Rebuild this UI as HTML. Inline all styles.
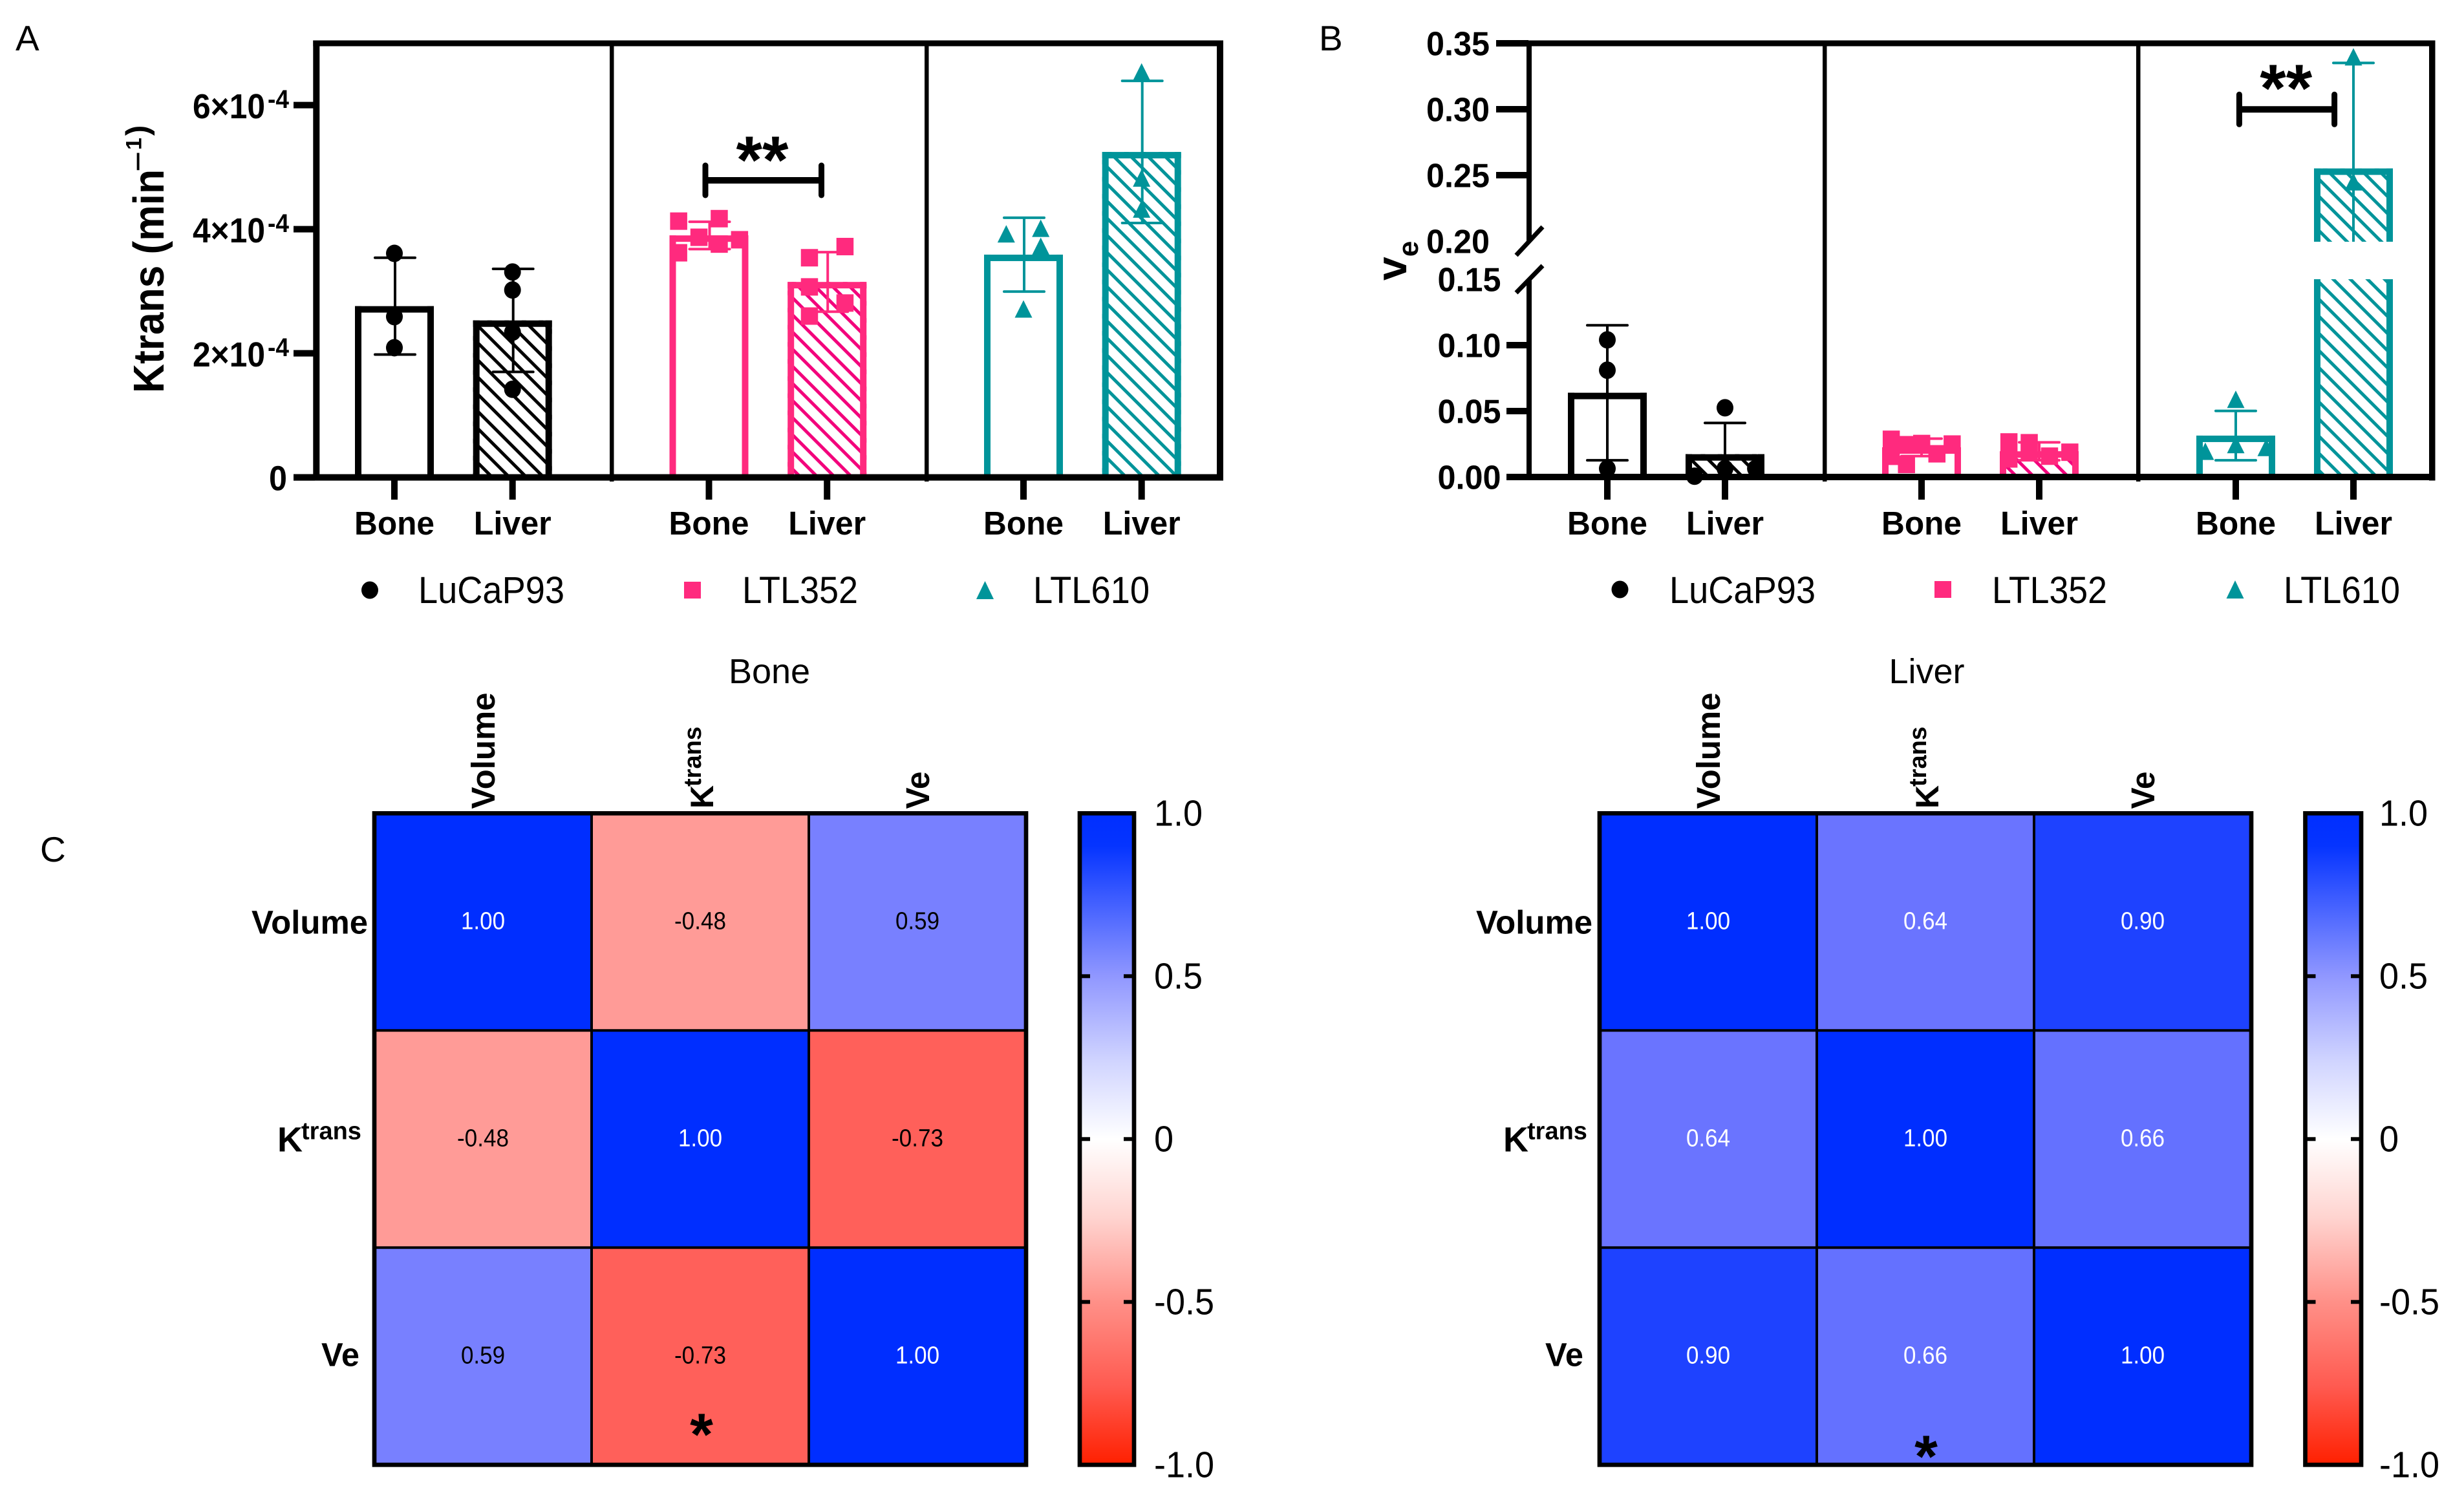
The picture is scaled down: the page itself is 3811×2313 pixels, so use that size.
<!DOCTYPE html>
<html><head><meta charset="utf-8"><title>Ktrans and ve bar charts with correlation heatmaps</title>
<style>html,body{margin:0;padding:0;background:#fff}svg{display:block}text{font-family:"Liberation Sans",Arial,sans-serif}</style></head>
<body>
<svg id="fig" xmlns="http://www.w3.org/2000/svg" width="3811" height="2313" viewBox="0 0 3811 2313">
<defs>
<pattern id="hatch-black" patternUnits="userSpaceOnUse" width="18.74" height="18.74" patternTransform="rotate(45)"><rect width="18.74" height="18.74" fill="#fff"/><rect width="18.74" height="5" fill="#000"/></pattern>
<pattern id="hatch-pink" patternUnits="userSpaceOnUse" width="18.74" height="18.74" patternTransform="rotate(45)"><rect width="18.74" height="18.74" fill="#fff"/><rect width="18.74" height="5" fill="#f3007c"/></pattern>
<pattern id="hatch-teal" patternUnits="userSpaceOnUse" width="18.74" height="18.74" patternTransform="rotate(45)"><rect width="18.74" height="18.74" fill="#fff"/><rect width="18.74" height="5" fill="#00949a"/></pattern>
<linearGradient id="cbar" x1="0" y1="0" x2="0" y2="1">
<stop offset="0" stop-color="#002eff"/><stop offset="0.05" stop-color="#0534ff"/><stop offset="0.25" stop-color="#9097ff"/><stop offset="0.38" stop-color="#d0d4ff"/><stop offset="0.5" stop-color="#ffffff"/><stop offset="0.62" stop-color="#ffd4d0"/><stop offset="0.75" stop-color="#ff9088"/><stop offset="0.88" stop-color="#ff5a50"/><stop offset="1" stop-color="#ff2000"/>
</linearGradient>
</defs>
<rect width="3811" height="2313" fill="#fff"/>

<text x="24" y="78" font-size="55">A</text>
<text x="2040" y="78" font-size="55">B</text>
<text x="62" y="1333" font-size="55">C</text>

<g id="panelA"></g>
<g id="panelB"></g>

<g>
<text transform="translate(253,608) rotate(-90)" font-size="67" font-weight="700" textLength="346" lengthAdjust="spacingAndGlyphs">Ktrans (min</text>
<text transform="translate(253,608) rotate(-90)" font-weight="700"><tspan x="342" y="-21" font-size="55" font-weight="400">−</tspan><tspan x="376" y="-34.7" font-size="34">1</tspan><tspan x="398" y="-24" font-size="49">)</tspan></text>
</g>
<text transform="translate(2175,434) rotate(-90)" font-size="66" font-weight="700">v<tspan font-size="44" dy="18">e</tspan></text>

<g>
<ellipse cx="572" cy="913" rx="13" ry="13.5" fill="#000"/>
<text x="647" y="933" font-size="58" textLength="226" lengthAdjust="spacingAndGlyphs">LuCaP93</text>
<rect x="1058" y="900" width="26" height="26" fill="#ff2a7e"/>
<text x="1148" y="933" font-size="58" textLength="179" lengthAdjust="spacingAndGlyphs">LTL352</text>
<path d="M1523.5 899L1537 927H1510Z" fill="#00949a"/>
<text x="1598" y="933" font-size="58" textLength="180" lengthAdjust="spacingAndGlyphs">LTL610</text>
</g>
<g>
<ellipse cx="2505.5" cy="912" rx="13" ry="13.5" fill="#000"/>
<text x="2582" y="933" font-size="58" textLength="226" lengthAdjust="spacingAndGlyphs">LuCaP93</text>
<rect x="2992" y="899" width="26" height="26" fill="#ff2a7e"/>
<text x="3081" y="933" font-size="58" textLength="178" lengthAdjust="spacingAndGlyphs">LTL352</text>
<path d="M3457 898L3470.5 926H3443.5Z" fill="#00949a"/>
<text x="3532" y="933" font-size="58" textLength="180" lengthAdjust="spacingAndGlyphs">LTL610</text>
</g>

<text x="1190" y="1057" text-anchor="middle" font-size="54">Bone</text>
<text x="2980" y="1057" text-anchor="middle" font-size="54">Liver</text>

<g id="heatBone"></g>
<g id="heatLiver"></g>

<script>
// Shared categories
const tissues = ['Bone', 'Liver'];
const modelColors = ['black', 'pink', 'teal'];

// Panel A: Ktrans, values in units of 1e-4 per minute
const ktransMeans = [2.76, 2.53, 3.90, 3.15, 3.59, 5.245];
const ktransSds = [0.78, 0.83, 0.22, 0.48, 0.595, 1.145];
const ktransPoints = [
  [3.61, 2.59, 2.09],
  [3.31, 3.02, 2.34, 1.42],
  [4.13, 4.17, 3.87, 3.83, 3.76, 3.62],
  [3.54, 3.72, 3.07, 2.81, 2.60],
  [3.92, 4.01, 3.72, 2.71],
  [6.53, 4.82, 4.32]
];
const ktransSwarm = [
  [0, 0, 0],
  [0, 0, 0, 0],
  [-3, 1, -1, 3, 1, -3],
  [-1.75, 1.75, -1.75, 1.75, -1.75],
  [-1.7, 1.7, 1.7, 0],
  [0, 0, 0]
];
const ktransTicks = [0, 2, 4, 6];

// Panel B: ve
const veMeans = [0.0639, 0.0173, 0.0225, 0.0195, 0.0314, 0.2551];
const veSds = [0.0512, 0.0237, 0.0066, 0.0068, 0.0187, 0.08];
const vePoints = [
  [0.104, 0.081, 0.0064],
  [0.0525, 0.0064, 0.0006, 0.0064],
  [0.0286, 0.0254, 0.0095, 0.025, 0.0176, 0.0157, 0.0245],
  [0.0266, 0.026, 0.0158, 0.0188, 0.0137, 0.0201],
  [0.0587, 0.0244, 0.0193, 0.0222],
  [0.3395, 0.2447, 0.175]
];
const veSwarm = [
  [0, 0, 0],
  [0, 0, -3, 3],
  [-3, 0, -1.5, 3, 1.5, -3, -1.5],
  [-3, -1, 1, 3, -3, -1],
  [0, 0, -3, 3],
  [0, 0, 0]
];
const veTicks = [0, 0.05, 0.10, 0.15, 0.20, 0.25, 0.30, 0.35];

// Panel C: correlation matrices
const heatVariables = ['Volume', 'Ktrans', 'Ve'];
const boneCorrelation = [
  [1.00, -0.48, 0.59],
  [-0.48, 1.00, -0.73],
  [0.59, -0.73, 1.00]
];
const liverCorrelation = [
  [1.00, 0.64, 0.90],
  [0.64, 1.00, 0.66],
  [0.90, 0.66, 1.00]
];
const colorbarTicks = [1.0, 0.5, 0, -0.5, -1.0];

const NS = 'http://www.w3.org/2000/svg';
const COLORS = {black: '#000', pink: '#ff2a7e', teal: '#00949a'};

function mark(parent, tag, attrs, name) {
  const el = document.createElementNS(NS, tag);
  for (const k in attrs) el.setAttribute(k, attrs[k]);
  
  
  parent.appendChild(el);
  return el;
}
function label(parent, attrs, str, name) {
  const el = mark(parent, 'text', attrs, name);
  el.textContent = str;
  return el;
}

// Axis functions
const xA = i => 610 + Math.floor(i / 2) * 486.5 + (i % 2) * 182.7;
const yA = v => 738.6 - v * 96;
const xB = i => 2486 + Math.floor(i / 2) * 486 + (i % 2) * 182;
const BREAK_TOP = 374, BREAK_BOTTOM = 432, BASE_B = 738;
const yB = v => v >= 0.2 ? 67 + (0.35 - v) * 2040 : (v <= 0.15 ? BASE_B - v * 2040 : null);

function barPiece(g, cx, top, bottom, color, hatched, withTop, name) {
  const c = COLORS[color], hw = 61, wall = 10;
  if (hatched) mark(g, 'rect', {x: cx - hw, y: top, width: hw * 2, height: bottom - top, fill: 'url(#hatch-' + color + ')'}, name + '-hatch');
  mark(g, 'rect', {x: cx - hw, y: top, width: wall, height: bottom - top, fill: c}, name + '-left-wall');
  mark(g, 'rect', {x: cx + hw - wall, y: top, width: wall, height: bottom - top, fill: c}, name + '-right-wall');
  if (withTop) mark(g, 'rect', {x: cx - hw, y: top, width: hw * 2, height: wall, fill: c}, name + '-top');
}

function errorBar(g, cx, yHi, yLo, fallbackLo, color, name) {
  const c = COLORS[color];
  const lo = yLo === null ? fallbackLo : yLo;
  mark(g, 'line', {x1: cx, x2: cx, y1: yHi, y2: lo, stroke: c, 'stroke-width': 4}, name + '-stem');
  mark(g, 'line', {x1: cx - 31, x2: cx + 31, y1: yHi, y2: yHi, stroke: c, 'stroke-width': 4, 'stroke-linecap': 'round'}, name + '-cap-upper');
  if (yLo !== null) mark(g, 'line', {x1: cx - 31, x2: cx + 31, y1: yLo, y2: yLo, stroke: c, 'stroke-width': 4, 'stroke-linecap': 'round'}, name + '-cap-lower');
}

function point(g, x, y, group, name) {
  const c = COLORS[modelColors[group]];
  if (group === 0) mark(g, 'ellipse', {cx: x, cy: y, rx: 13, ry: 13.5, fill: c}, name);
  else if (group === 1) mark(g, 'rect', {x: x - 13, y: y - 13.5, width: 26.5, height: 27, fill: c}, name);
  else mark(g, 'path', {d: 'M' + x + ' ' + (y - 14) + 'L' + (x + 13.5) + ' ' + (y + 13) + 'H' + (x - 13.5) + 'Z', fill: c}, name);
}

function sigBracket(g, x1, x2, y, half, starX, starY, name) {
  mark(g, 'line', {x1: x1, x2: x2, y1: y, y2: y, stroke: '#000', 'stroke-width': 10}, name + '-bar');
  mark(g, 'line', {x1: x1, x2: x1, y1: y - half, y2: y + half, stroke: '#000', 'stroke-width': 9, 'stroke-linecap': 'round'}, name + '-cap-left');
  mark(g, 'line', {x1: x2, x2: x2, y1: y - half, y2: y + half, stroke: '#000', 'stroke-width': 9, 'stroke-linecap': 'round'}, name + '-cap-right');
  label(g, {x: starX, y: starY, 'text-anchor': 'middle', 'font-size': 104, 'font-weight': 700}, '**', name + '-stars');
}

function drawAxisLabels(g, xFn) {
  for (let i = 0; i < 6; i++) {
    const x = xFn(i);
    const word = tissues[i % 2];
    mark(g, 'rect', {x: x - 5, y: 743, width: 10, height: 30}, 'x-tick');
    label(g, {x: x, y: 827, 'text-anchor': 'middle', 'font-size': 51, 'font-weight': 700, textLength: word === 'Bone' ? 124 : 120, lengthAdjust: 'spacingAndGlyphs'}, word, 'x-tick-label');
  }
}

/* ---------- Panel A ---------- */
(function () {
  const g = document.getElementById('panelA');
  ktransMeans.forEach((m, i) => {
    const group = Math.floor(i / 2), color = modelColors[group], cx = xA(i);
    const name = 'bar-' + color + '-' + tissues[i % 2].toLowerCase();
    barPiece(g, cx, yA(m), 738, color, i % 2 === 1, true, name);
    errorBar(g, cx + 1, yA(m + ktransSds[i]), yA(m - ktransSds[i]), 0, color, name + '-error');
    ktransPoints[i].forEach((v, j) => point(g, cx + ktransSwarm[i][j] * 15.7, yA(v), group, name + '-point'));
  });
  mark(g, 'rect', {x: 484.3, y: 62.5, width: 1407.7, height: 9}, 'frame-top');
  mark(g, 'rect', {x: 484.3, y: 62.5, width: 10, height: 681}, 'frame-left');
  mark(g, 'rect', {x: 1882, y: 62.5, width: 10, height: 681}, 'frame-right');
  mark(g, 'rect', {x: 454, y: 733.6, width: 1438, height: 10}, 'x-axis');
  mark(g, 'rect', {x: 943, y: 67, width: 6.5, height: 678}, 'group-divider-1');
  mark(g, 'rect', {x: 1430, y: 67, width: 6.5, height: 678}, 'group-divider-2');
  ktransTicks.forEach(t => {
    const y = yA(t);
    mark(g, 'rect', {x: 454, y: y - 5, width: 33, height: 10}, 'y-tick');
    if (t === 0) {
      label(g, {x: 444, y: y + 20, 'text-anchor': 'end', 'font-size': 54, 'font-weight': 700, textLength: 28, lengthAdjust: 'spacingAndGlyphs'}, '0', 'y-tick-label');
    } else {
      label(g, {x: 298, y: y + 20.5, 'font-size': 54, 'font-weight': 700, textLength: 112, lengthAdjust: 'spacingAndGlyphs'}, t + '×10', 'y-tick-label');
      label(g, {x: 414, y: y + 4.5, 'font-size': 40, 'font-weight': 700, textLength: 33, lengthAdjust: 'spacingAndGlyphs'}, '-4', 'y-tick-exponent');
    }
  });
  drawAxisLabels(g, xA);
  sigBracket(g, 1091, 1270.5, 279, 23, 1179, 283, 'significance-ktrans');
})();

/* ---------- Panel B ---------- */
(function () {
  const g = document.getElementById('panelB');
  veMeans.forEach((m, i) => {
    const group = Math.floor(i / 2), color = modelColors[group], cx = xB(i);
    const name = 'bar-' + color + '-' + tissues[i % 2].toLowerCase();
    if (m > 0.2) {
      barPiece(g, cx, yB(m), BREAK_TOP, color, i % 2 === 1, true, name + '-upper');
      barPiece(g, cx, BREAK_BOTTOM, 738, color, i % 2 === 1, false, name + '-lower');
    } else {
      barPiece(g, cx, yB(m), 738, color, i % 2 === 1, true, name);
    }
    const lowVal = m - veSds[i];
    const yLo = lowVal < 0 ? null : yB(lowVal);
    const fallback = lowVal < 0 ? BASE_B : BREAK_TOP;
    errorBar(g, cx, yB(m + veSds[i]), yLo, fallback, color, name + '-error');
    vePoints[i].forEach((v, j) => {
      const y = yB(v);
      if (y !== null) point(g, cx + veSwarm[i][j] * 15.7, y, group, name + '-point');
    });
  });
  mark(g, 'rect', {x: 2314, y: 62.5, width: 1452.5, height: 9}, 'frame-top');
  mark(g, 'rect', {x: 2361, y: 62.5, width: 8, height: BREAK_TOP - 62.5}, 'y-axis-upper');
  mark(g, 'rect', {x: 2361, y: BREAK_BOTTOM, width: 8, height: 311}, 'y-axis-lower');
  mark(g, 'line', {x1: 2345, y1: 395, x2: 2386, y2: 351, stroke: '#000', 'stroke-width': 7}, 'axis-break-upper');
  mark(g, 'line', {x1: 2345, y1: 453, x2: 2386, y2: 411, stroke: '#000', 'stroke-width': 7}, 'axis-break-lower');
  mark(g, 'rect', {x: 3757, y: 62.5, width: 9.5, height: 681}, 'frame-right');
  mark(g, 'rect', {x: 2330, y: 733, width: 1436.5, height: 10}, 'x-axis');
  mark(g, 'rect', {x: 2819, y: 67, width: 6.5, height: 678}, 'group-divider-1');
  mark(g, 'rect', {x: 3304, y: 67, width: 6.5, height: 678}, 'group-divider-2');
  veTicks.forEach(t => {
    const y = yB(t);
    const upper = t >= 0.2;
    const hidden = Math.abs(t - 0.2) < 1e-6 || Math.abs(t - 0.15) < 1e-6;
    if (!hidden) mark(g, 'rect', {x: upper ? 2314 : 2330, y: y - 5, width: upper ? 50 : 34, height: 10}, 'y-tick');
    label(g, {x: (upper ? 2304 : 2321.5) - 98, y: y + 18.5, 'font-size': 52, 'font-weight': 700, textLength: 98, lengthAdjust: 'spacingAndGlyphs'}, t.toFixed(2), 'y-tick-label');
  });
  drawAxisLabels(g, xB);
  sigBracket(g, 3463.4, 3610.6, 169.3, 23, 3535.7, 172, 'significance-ve');
})();

/* ---------- Panel C ---------- */
function heatColor(v) {
  if (v >= 0) {
    const t = Math.pow(v, 1.2);
    const r = Math.round(255 * (1 - t));
    const gr = Math.round(Math.max(255 - 240 * t, 46 + 170 * (1 - t)));
    return 'rgb(' + r + ',' + gr + ',255)';
  }
  const t = Math.pow(-v, 1.1);
  return 'rgb(255,' + Math.round(255 - 225 * t) + ',' + Math.round(255 - 233 * t) + ')';
}

function drawHeat(id, matrix, cfg) {
  const g = document.getElementById(id);
  const X0 = cfg.x0, CW = cfg.cw, Y0 = 1258.3, CH = 336;
  const xH = j => X0 + j * CW;
  const yH = i => Y0 + i * CH;
  matrix.forEach((row, i) => row.forEach((v, j) => {
    const s = v.toFixed(2);
    mark(g, 'rect', {x: xH(j), y: yH(i), width: CW + 0.5, height: CH + 0.5, fill: heatColor(v)}, 'heat-cell');
    label(g, {x: xH(j) + CW / 2 - (v < 0 ? 40 : 34), y: yH(i) + CH / 2 + 11, 'font-size': 38, textLength: v < 0 ? 80 : 68, lengthAdjust: 'spacingAndGlyphs', fill: v > 0.6 ? '#fff' : '#000'}, s, 'heat-value');
  }));
  for (let k = 1; k < 3; k++) {
    mark(g, 'line', {x1: xH(k), x2: xH(k), y1: Y0, y2: Y0 + 3 * CH, stroke: '#000', 'stroke-width': 4}, 'heat-grid-line');
    mark(g, 'line', {x1: X0, x2: X0 + 3 * CW, y1: yH(k), y2: yH(k), stroke: '#000', 'stroke-width': 4}, 'heat-grid-line');
  }
  mark(g, 'rect', {x: X0, y: Y0, width: 3 * CW, height: 3 * CH, fill: 'none', stroke: '#000', 'stroke-width': 6.7}, 'heat-frame');

  heatVariables.forEach((nameText, i) => {
    const cy = yH(i) + CH / 2;
    const cx = xH(i) + CW / 2;
    if (nameText === 'Ktrans') {
      label(g, {x: X0 - cfg.kOffset, y: cy + 19, 'font-size': 54, 'font-weight': 700}, 'K', 'row-label-k');
      label(g, {x: X0 - cfg.kOffset + 37, y: cy, 'font-size': 38, 'font-weight': 700}, 'trans', 'row-label-trans');
      label(g, {transform: 'translate(' + (cx + 20) + ',1251) rotate(-90)', 'font-size': 50, 'font-weight': 700}, 'K', 'column-label-k');
      label(g, {transform: 'translate(' + (cx + 1) + ',1217) rotate(-90)', 'font-size': 38, 'font-weight': 700}, 'trans', 'column-label-trans');
    } else {
      const isVe = nameText === 'Ve';
      const wid = isVe ? 59 : 180;
      const gap = isVe ? cfg.veGap : cfg.volGap;
      label(g, {x: X0 - gap - wid, y: cy + (isVe ? 15 : 18), 'font-size': 51, 'font-weight': 700, textLength: wid, lengthAdjust: 'spacingAndGlyphs'}, nameText, 'row-label-' + nameText.toLowerCase());
      label(g, {transform: 'translate(' + (cx + 18) + ',1251.5) rotate(-90)', 'font-size': 51, 'font-weight': 700, textLength: isVe ? 58 : 180, lengthAdjust: 'spacingAndGlyphs'}, nameText, 'column-label-' + nameText.toLowerCase());
    }
  });

  label(g, {x: cfg.starX, y: cfg.starY, 'text-anchor': 'middle', 'font-size': 92, 'font-weight': 700}, '*', 'significance-star');

  const bx = cfg.barX, bw = cfg.barW;
  const yC = v => Y0 + (1 - v) / 2 * (3 * CH);
  mark(g, 'rect', {x: bx, y: Y0, width: bw, height: 3 * CH, fill: 'url(#cbar)', stroke: '#000', 'stroke-width': 6.7}, 'colorbar');
  colorbarTicks.forEach(t => {
    const y = yC(t);
    if (Math.abs(t) < 1) {
      mark(g, 'rect', {x: bx, y: y - 3, width: 16, height: 6}, 'colorbar-tick');
      mark(g, 'rect', {x: bx + bw - 16, y: y - 3, width: 16, height: 6}, 'colorbar-tick');
    }
    const txt = t === 0 ? '0' : t.toFixed(1);
    const natural = t === 0 ? 0.556 : (t < 0 ? 1.723 : 1.39);
    label(g, {x: cfg.labelX, y: y + 19, 'font-size': 57, textLength: natural * 54, lengthAdjust: 'spacingAndGlyphs'}, txt, 'colorbar-label');
  });
}
drawHeat('heatBone', boneCorrelation, {x0: 579, cw: 336, kOffset: 150, volGap: 10, veGap: 23, barX: 1670, barW: 84, labelX: 1785, starX: 1085, starY: 2251});
drawHeat('heatLiver', liverCorrelation, {x0: 2474, cw: 336, kOffset: 149, volGap: 11, veGap: 25, barX: 3565.5, barW: 86.5, labelX: 3680, starX: 2979, starY: 2285});
</script>
</svg>
</body></html>
